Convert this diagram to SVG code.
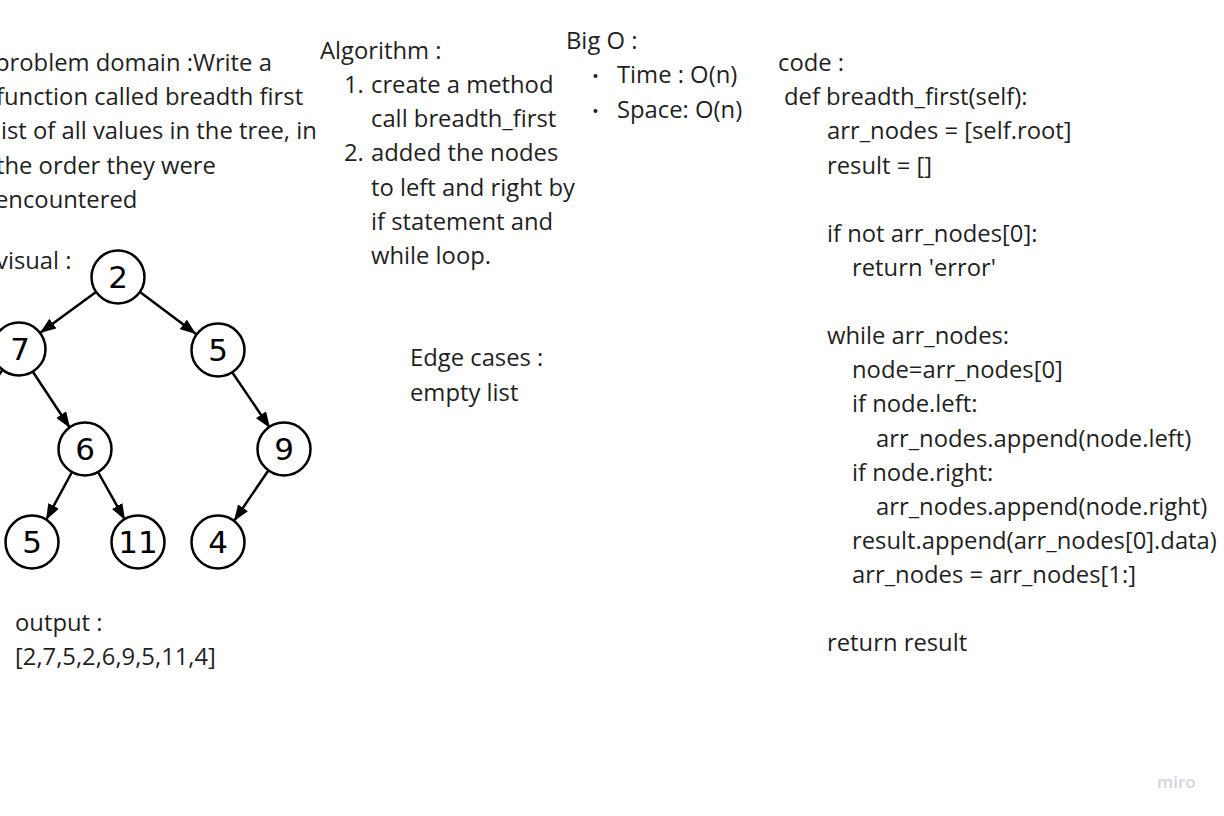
<svg xmlns="http://www.w3.org/2000/svg" width="1224" height="816" viewBox="0 0 1224 816">
<style>
  .t { font-family: "Open Sans", "Liberation Sans", sans-serif; font-size: 23.8px; fill: #1f1f1f; }
  .n circle { fill: #ffffff; stroke: #000000; stroke-width: 2.5; }
  .n text { font-family: "DejaVu Sans", sans-serif; font-size: 31px; fill: #000000; text-anchor: middle; }
  .e line { stroke: #000000; stroke-width: 2.5; }
  .logo { font-family: "Open Sans", "Liberation Sans", sans-serif; font-size: 17px; font-weight: 600; fill: #d4d4de; }
</style>
<defs>
  <marker id="arr" markerUnits="userSpaceOnUse" markerWidth="17" markerHeight="12" refX="16" refY="6" orient="auto">
    <path d="M0,0 L16,6 L0,12 Z" fill="#000000"/>
  </marker>
</defs>
<rect width="1224" height="816" fill="#ffffff"/>

<g id="problem-domain" class="t">
  <text x="-5" y="71">problem domain :Write a</text>
  <text x="-4" y="105">function called breadth first</text>
  <text x="-5" y="139">list of all values in the tree, in</text>
  <text x="-4" y="174">the order they were</text>
  <text x="-5" y="208">encountered</text>
</g>

<g id="visual-label" class="t">
  <text x="-4" y="269">visual :</text>
</g>

<g id="edges" class="e">
  <line x1="96" y1="292" x2="40" y2="333" marker-end="url(#arr)"/>
  <line x1="140" y1="292" x2="196" y2="334" marker-end="url(#arr)"/>
  <line x1="33" y1="372" x2="70" y2="428" marker-end="url(#arr)"/>
  <line x1="232" y1="372" x2="270" y2="428" marker-end="url(#arr)"/>
  <line x1="72" y1="472" x2="46" y2="520" marker-end="url(#arr)"/>
  <line x1="98" y1="472" x2="125" y2="520" marker-end="url(#arr)"/>
  <line x1="268" y1="471" x2="234" y2="521" marker-end="url(#arr)"/>
  <line x1="3" y1="369" x2="-10" y2="388"/>
</g>

<g id="node-2" class="n"><circle cx="118" cy="277" r="26.5"/><text x="118" y="288">2</text></g>
<g id="node-7" class="n"><circle cx="19" cy="349" r="26.5"/><text x="20" y="360">7</text></g>
<g id="node-5a" class="n"><circle cx="218" cy="350" r="26.5"/><text x="218" y="361">5</text></g>
<g id="node-6" class="n"><circle cx="85" cy="449" r="26.5"/><text x="85" y="460">6</text></g>
<g id="node-9" class="n"><circle cx="284" cy="449" r="26.5"/><text x="284" y="460">9</text></g>
<g id="node-5b" class="n"><circle cx="32" cy="542" r="26.5"/><text x="32" y="553">5</text></g>
<g id="node-11" class="n"><circle cx="138" cy="542" r="26.5"/><text x="138" y="553">11</text></g>
<g id="node-4" class="n"><circle cx="218" cy="542" r="26.5"/><text x="218" y="553">4</text></g>

<g id="output" class="t">
  <text x="15" y="631">output :</text>
  <text x="15" y="665">[2,7,5,2,6,9,5,11,4]</text>
</g>

<g id="algorithm" class="t">
  <text x="320" y="59">Algorithm :</text>
  <text x="344" y="93">1.</text>
  <text x="371" y="93">create a method</text>
  <text x="371" y="127">call breadth_first</text>
  <text x="344" y="161">2.</text>
  <text x="371" y="161">added the nodes</text>
  <text x="371" y="196">to left and right by</text>
  <text x="371" y="230">if statement and</text>
  <text x="371" y="264">while loop.</text>
</g>

<g id="edge-cases" class="t">
  <text x="410" y="366">Edge cases :</text>
  <text x="410" y="401">empty list</text>
</g>

<g id="big-o" class="t">
  <text x="566" y="49">Big O :</text>
  <circle cx="595.5" cy="76" r="2" fill="#1f1f1f"/>
  <text x="617" y="83">Time : O(n)</text>
  <circle cx="595.5" cy="111" r="2" fill="#1f1f1f"/>
  <text x="617" y="118">Space: O(n)</text>
</g>

<g id="code" class="t">
  <text x="778" y="71">code :</text>
  <text x="784" y="105">def breadth_first(self):</text>
  <text x="827" y="139">arr_nodes = [self.root]</text>
  <text x="827" y="174">result = []</text>
  <text x="827" y="242">if not arr_nodes[0]:</text>
  <text x="852" y="276">return 'error'</text>
  <text x="827" y="344">while arr_nodes:</text>
  <text x="852" y="378">node=arr_nodes[0]</text>
  <text x="852" y="412">if node.left:</text>
  <text x="876" y="447">arr_nodes.append(node.left)</text>
  <text x="852" y="481">if node.right:</text>
  <text x="876" y="515">arr_nodes.append(node.right)</text>
  <text x="852" y="549">result.append(arr_nodes[0].data)</text>
  <text x="852" y="583">arr_nodes = arr_nodes[1:]</text>
  <text x="827" y="651">return result</text>
</g>

<g id="watermark">
  <text class="logo" x="1157" y="788">miro</text>
</g>
</svg>
